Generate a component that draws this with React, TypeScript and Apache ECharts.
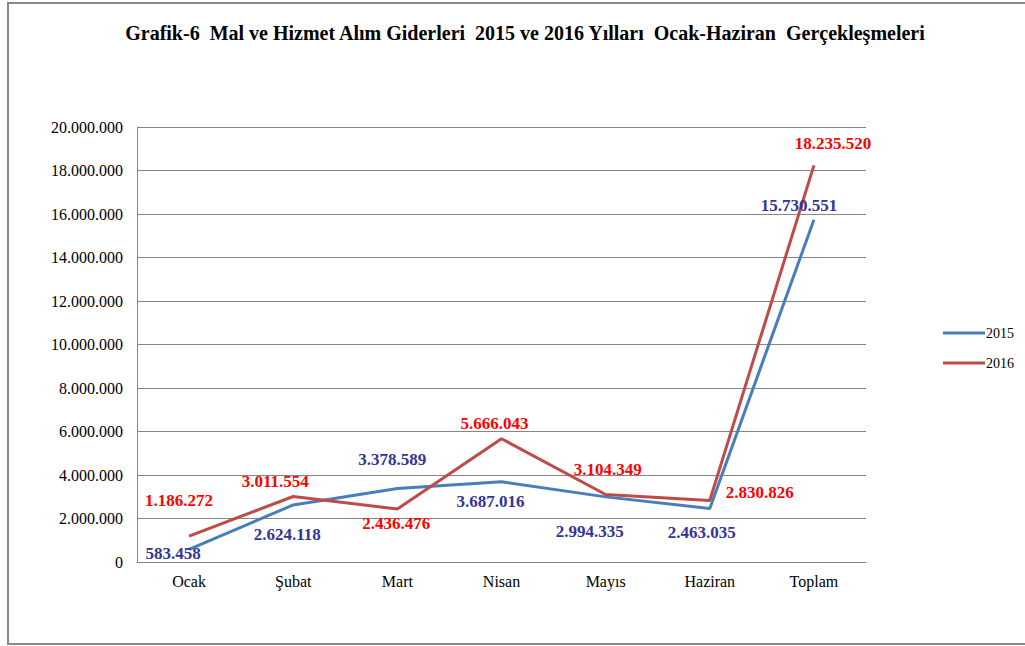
import React, { useEffect, useRef } from "react";
import * as echarts from "echarts";

const categories = ["Ocak", "Şubat", "Mart", "Nisan", "Mayıs", "Haziran", "Toplam"];
const values2015 = [583458, 2624118, 3378589, 3687016, 2994335, 2463035, 15730551];
const values2016 = [1186272, 3011554, 2436476, 5666043, 3104349, 2830826, 18235520];
// label offsets (dx, dy) relative to each point
const offsets2015: [number, number][] = [[-16, 4], [-6, 30], [-5, -29], [-11, 20], [-16, 35], [-8, 24], [-15, -14]];
const offsets2016: [number, number][] = [[-10, -36], [-18, -15], [-1, 14], [-7, -15], [2, -25], [50, -8], [19, -22]];
const yMax = 20000000;
const yInterval = 2000000;

const fmt = (v: number) => String(Math.round(v)).replace(/\B(?=(\d{3})+(?!\d))/g, ".");

export default function App() {
  const ref = useRef<HTMLDivElement>(null);
  useEffect(() => {
    if (!ref.current) return;
    const chart = echarts.init(ref.current, null, { renderer: "svg" });
    const serif = "Liberation Serif";
    const mkData = (vals: number[], offs: [number, number][]) =>
      vals.map((v, i) => ({ value: v, label: { offset: offs[i] } }));
    chart.setOption({
      animation: false,
      backgroundColor: "#ffffff",
      title: {
        text: "Grafik-6  Mal ve Hizmet Alım Giderleri  2015 ve 2016 Yılları  Ocak-Haziran  Gerçekleşmeleri",
        left: 520,
        top: 18,
        textAlign: "center",
        textStyle: { fontFamily: serif, fontSize: 20, fontWeight: "bold", color: "#000" },
      },
      legend: {
        orient: "vertical",
        left: 938,
        top: 321,
        itemWidth: 42,
        itemHeight: 3,
        itemGap: 16,
        icon: "rect",
        textStyle: { fontFamily: serif, fontSize: 14, color: "#000", padding: [0, 0, 0, -4] },
        data: ["2015", "2016"],
      },
      grid: { left: 137, right: 159, top: 127, bottom: 84, containLabel: false },
      xAxis: {
        type: "category",
        data: categories,
        boundaryGap: true,
        axisLine: { lineStyle: { color: "#868686", width: 1 } },
        axisTick: { show: false },
        axisLabel: { fontFamily: serif, fontSize: 16, color: "#000", margin: 11 },
      },
      yAxis: {
        type: "value",
        min: 0,
        max: yMax,
        interval: yInterval,
        axisLine: { show: true, lineStyle: { color: "#868686", width: 1 } },
        axisTick: { show: false },
        splitLine: { lineStyle: { color: "#868686", width: 1 } },
        axisLabel: { fontFamily: serif, fontSize: 16, color: "#000", margin: 14, formatter: (v: number) => fmt(v) },
      },
      series: [
        {
          name: "2015",
          type: "line",
          data: mkData(values2015, offsets2015),
          symbol: "circle",
          symbolSize: 0,
          showSymbol: true,
          lineStyle: { color: "#4A7EBB", width: 3 },
          itemStyle: { color: "#4A7EBB" },
          label: {
            show: true,
            position: "inside",
            formatter: (p: any) => fmt(p.value),
            fontFamily: serif,
            fontSize: 17,
            fontWeight: "bold",
            color: "#333399",
          },
        },
        {
          name: "2016",
          type: "line",
          data: mkData(values2016, offsets2016),
          symbol: "circle",
          symbolSize: 0,
          showSymbol: true,
          lineStyle: { color: "#BE4B48", width: 3 },
          itemStyle: { color: "#BE4B48" },
          label: {
            show: true,
            position: "inside",
            formatter: (p: any) => fmt(p.value),
            fontFamily: serif,
            fontSize: 17,
            fontWeight: "bold",
            color: "#FF0000",
          },
        },
      ],
      graphic: [
        { type: "line", shape: { x1: 8, y1: 3, x2: 1025, y2: 3 }, style: { stroke: "#888888", lineWidth: 2 } },
        { type: "line", shape: { x1: 8, y1: 2, x2: 8, y2: 645 }, style: { stroke: "#888888", lineWidth: 2 } },
        { type: "line", shape: { x1: 7, y1: 644, x2: 1025, y2: 644 }, style: { stroke: "#888888", lineWidth: 2 } },
      ],
    });
    return () => chart.dispose();
  }, []);
  return (
    <div
      ref={ref}
      style={{ position: "absolute", left: 0, top: 0, width: 1025, height: 646 }}
    />
  );
}
